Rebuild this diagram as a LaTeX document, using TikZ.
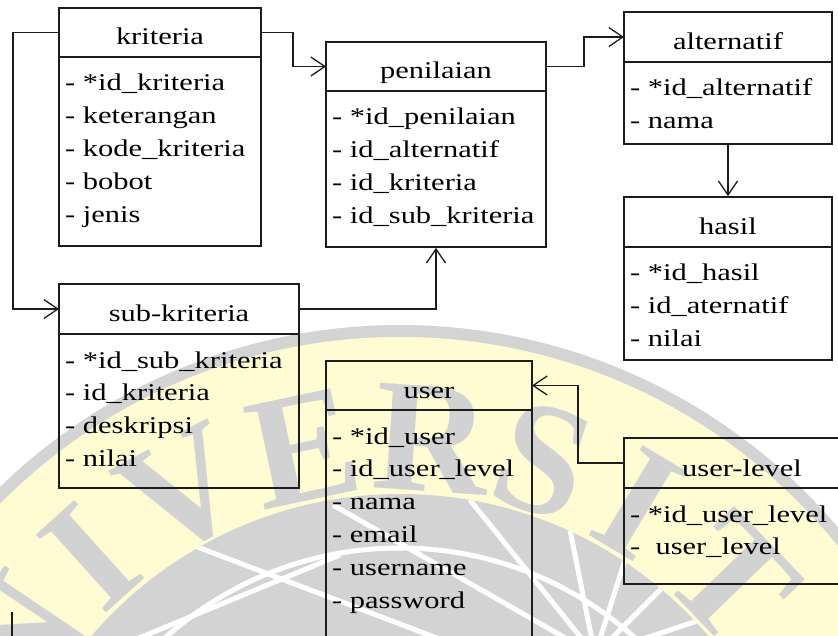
\documentclass[tikz,border=0pt]{standalone}
\usepackage{fontspec}
\setmainfont{Liberation Serif}
\newfontfamily\erfont[FakeStretch=1.27]{Liberation Serif}
\usetikzlibrary{arrows.meta,calc,fit}

\definecolor{wmring}{HTML}{D4D4D4}
\definecolor{wmyellow}{HTML}{FFFCD3}
\definecolor{wmgray}{HTML}{D3D3D3}
\definecolor{wmletter}{HTML}{D2D2D2}
\definecolor{inkline}{HTML}{1C1C1C}

\tikzset{
  ebox/.style={draw=inkline, line width=1.7pt, inner sep=0pt},
  hline/.style={draw=inkline, line width=1.6pt},
  etitle/.style={inner sep=0pt, anchor=base, font=\erfont\fontsize{24}{28}\selectfont, text=black},
  erow/.style={inner sep=0pt, anchor=base west, font=\erfont\fontsize{24}{28}\selectfont, text=black},
  link/.style={draw=inkline, line width=1.4pt,
    -{Straight Barb[length=14pt,width=19pt,line width=1.3pt]}},
  plainlink/.style={draw=inkline, line width=1.4pt},
  wmchar/.style={text=wmletter, font=\bfseries\fontsize{160}{160}\selectfont, inner sep=0pt},
  spoke/.style={draw=white, line width=5pt},
}

% entity box: name, left, top, right, bottom, header line, title, attribute rows
\newcommand\entity[8]{%
  \node[ebox, fit={(#2,-#3) (#4,-#5)}] (#1) {};
  \coordinate (#1-hl) at (#2,-#6);
  \coordinate (#1-hr) at (#4,-#6);
  \coordinate (#1-hw) at (#2,{-(#3+#6)/2});
  \coordinate (#1-he) at (#4,{-(#3+#6)/2});
  \draw[hline] (#1-hl) -- (#1-hr);
  \node[etitle] (#1-title) at ({(#2+#4)/2},{-#6+12}) {#7};
  \foreach \row [count=\i] in {#8}{
    \node[erow] (#1-row\i) at ({#2+6},{-#6-34-(\i-1)*32.8}) {\row};
  }%
}

\begin{document}
\begin{tikzpicture}[x=1pt,y=1pt]
\useasboundingbox (0,0) rectangle (838,-636);
\clip (0,0) rectangle (838,-636);

% faint round emblem in the background
\fill[wmring] (400,-900) circle (575);
\fill[wmyellow] (400,-900) circle (563);
\fill[wmgray] (400,-900) circle (406);
\begin{scope}
  \clip (400,-900) circle (406);
  \coordinate (hub) at (595,-655);
  \draw[spoke] (400,-900) circle (352);
  \draw[spoke] (hub) -- (333,-505);
  \draw[spoke] (hub) -- (470,-500);
  \draw[spoke] (hub) -- (560,-480);
  \draw[spoke] (hub) -- (650,-480);
  \draw[spoke] (hub) -- (740,-510);
  \draw[spoke] (hub) -- (820,-580);
  \draw[spoke] (100,-510) -- (600,-700);
  \draw[spoke] (110,-650) -- (340,-555);
\end{scope}
\foreach \ch/\ang [count=\k] in {U/-70,N/-56,I/-42,V/-28,E/-12,R/4,S/18,I/31,T/46,A/61,S/76}{
  \node[wmchar, rotate=-\ang] (wm\k) at ($(400,-900)+(90-\ang:462)$) {\ch};
}

% entities
\entity{kriteria}{59}{8}{261}{246}{57}{kriteria}
  {- *id\_kriteria, - keterangan, - kode\_kriteria, - bobot, - jenis}
\entity{penilaian}{326}{42}{546}{247}{91}{penilaian}
  {- *id\_penilaian, - id\_alternatif, - id\_kriteria, - id\_sub\_kriteria}
\entity{alternatif}{624}{12}{832}{144}{62}{alternatif}
  {- *id\_alternatif, - nama}
\entity{hasil}{624}{197}{832}{360}{247}{hasil}
  {- *id\_hasil, - id\_aternatif, - nilai}
\entity{sub-kriteria}{59}{284}{299}{488}{334}{sub-kriteria}
  {- *id\_sub\_kriteria, - id\_kriteria, - deskripsi, - nilai}
\entity{user}{326}{361}{532}{660}{410}{user}
  {- *id\_user, - id\_user\_level, - nama, - email, - username, - password}
\entity{user-level}{624}{438}{860}{584}{488}{user-level}
  {- *id\_user\_level, -\ \ user\_level}

% relations
\draw[link] (kriteria-hw) -- ++(-46,0) |- (sub-kriteria-hw);
\draw[link] (kriteria-he) -- ++(32,0) |- (penilaian-hw);
\draw[link] (penilaian-he) -- ++(38,0) |- (alternatif-hw);
\draw[link] (sub-kriteria-he) -| (penilaian.south);
\draw[link] (alternatif.south) -- (hasil.north);
\draw[link] (user-level-hw) -- ++(-46,0) |- (user-he);

% line running in from below
\coordinate (stubtop) at (12,-612);
\coordinate (stubend) at (12,-650);
\draw[plainlink] (stubtop) -- (stubend);
\end{tikzpicture}
\end{document}
